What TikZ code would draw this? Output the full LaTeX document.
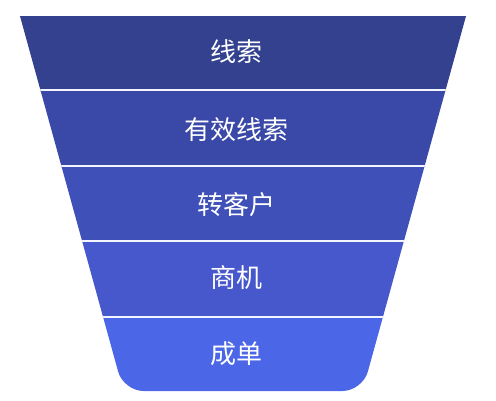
\documentclass[tikz,border=0pt]{standalone}
\usepackage{fontspec}
\newfontfamily\cjk{Noto Sans CJK SC}
\definecolor{bandA}{HTML}{33418F}
\definecolor{bandB}{HTML}{3A49A7}
\definecolor{bandC}{HTML}{3F50B9}
\definecolor{bandD}{HTML}{4758CC}
\definecolor{bandE}{HTML}{4B66E6}
\definecolor{sepcol}{HTML}{F2F5FF}
\begin{document}
\begin{tikzpicture}[x=1pt,y=-1pt,
  lbl/.style={text=white,font=\cjk\fontsize{26}{30}\selectfont,inner sep=0pt},
  sepline/.style={draw=sepcol,line width=2.6pt}]
\useasboundingbox (0,0) rectangle (496,400);
\begin{scope}
  \clip[rounded corners=20pt] (4.5,-40) -- (481.5,-40) -- (362.5,391) -- (123.5,391) -- cycle;
  \fill[bandA] (0,16) rectangle (496,90);
  \fill[bandB] (0,90) rectangle (496,166);
  \fill[bandC] (0,166) rectangle (496,241);
  \fill[bandD] (0,241) rectangle (496,317);
  \fill[bandE] (0,317) rectangle (496,400);
  \draw[sepline] (0,90) -- (496,90);
  \draw[sepline] (0,166) -- (496,166);
  \draw[sepline] (0,241) -- (496,241);
  \draw[sepline] (0,317) -- (496,317);
\end{scope}
\node[lbl] (l1) at (236,52) {线索};
\node[lbl] (l2) at (236,130) {有效线索};
\node[lbl] (l3) at (236,205) {转客户};
\node[lbl] (l4) at (236,278) {商机};
\node[lbl] (l5) at (236,354) {成单};
\end{tikzpicture}
\end{document}
